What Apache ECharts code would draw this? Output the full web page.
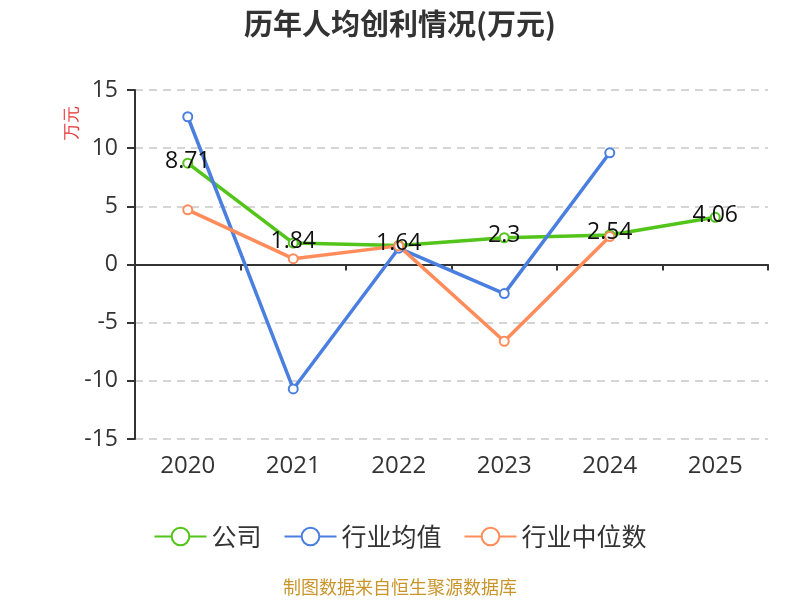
<!DOCTYPE html>
<html>
<head>
<meta charset="utf-8">
<script src="https://cdn.jsdelivr.net/npm/echarts@6/dist/echarts.min.js"></script>
<style>
  html, body { margin: 0; padding: 0; }
  #main { width: 800px; height: 600px; }
</style>
</head>
<body>
<div id="main"></div>
<script type="text/javascript">
    var years = ['2020', '2021', '2022', '2023', '2024', '2025'];
    var company = [8.71, 1.84, 1.64, 2.3, 2.54, 4.06];
    var industryAvg = [12.7, -10.7, 1.4, -2.5, 9.6, null];
    var industryMid = [4.7, 0.5, 1.6, -6.6, 2.4, null];
    var yTicks = { min: -15, max: 15, interval: 5 };

    var chart = echarts.init(document.getElementById('main'));

    function lineSeries(name, data, color, showLabel) {
        return {
            name: name,
            type: 'line',
            data: data,
            xAxisIndex: 0,
            symbol: 'emptyCircle',
            symbolSize: 9,
            lineStyle: { width: 3.5, color: color },
            itemStyle: { color: color, borderWidth: 1.5 },
            label: {
                show: showLabel,
                position: 'top',
                offset: [0, 20],
                color: '#111',
                fontSize: 23,
                fontFamily: 'Open Sans'
            }
        };
    }

    var option = {
        title: {
            text: '历年人均创利情况(万元)',
            left: 'center',
            top: 4,
            textStyle: { fontSize: 29, fontWeight: 'bold', color: '#333', fontFamily: 'Noto Sans CJK SC' }
        },
        color: ['#52c41a', '#4a7fe0', '#ff8c5a'],
        legend: {
            bottom: 46,
            left: 'center',
            itemWidth: 52,
            itemHeight: 22,
            itemGap: 22,
            textStyle: { fontSize: 25, color: '#333', fontFamily: 'Noto Sans CJK SC' },
            data: ['公司', '行业均值', '行业中位数']
        },
        grid: { left: 135, right: 32, top: 90, bottom: 161, outerBoundsMode: 'none', containLabel: false },
        xAxis: [{
            // year labels along the bottom of the grid
            type: 'category',
            data: years,
            position: 'bottom',
            axisLine: { show: false, onZero: false },
            axisTick: { show: false },
            axisLabel: { fontSize: 24, color: '#333', margin: 15, fontFamily: 'Open Sans' }
        }, {
            // zero line with ticks
            type: 'category',
            data: years,
            position: 'bottom',
            axisLine: { onZero: true, lineStyle: { color: '#333', width: 2 } },
            axisTick: { show: true, length: 6, lineStyle: { color: '#333', width: 2 } },
            axisLabel: { show: false }
        }],
        yAxis: {
            type: 'value',
            min: yTicks.min,
            max: yTicks.max,
            interval: yTicks.interval,
            name: '万元',
            nameLocation: 'end',
            nameRotate: 90,
            nameGap: 0,
            nameTextStyle: { color: '#e83030', fontSize: 17, align: 'right', verticalAlign: 'bottom', padding: [0, 16, 54, 0] },
            axisLine: { show: true, lineStyle: { color: '#333', width: 2 } },
            axisTick: { show: true, length: 8, lineStyle: { color: '#333', width: 2 } },
            axisLabel: { fontSize: 23, color: '#333', margin: 17, fontFamily: 'Open Sans' },
            splitLine: { lineStyle: { type: [8, 6], color: '#c8c8c8', width: 1.5 } }
        },
        series: [
            lineSeries('公司', company, '#52c41a', true),
            lineSeries('行业均值', industryAvg, '#4a7fe0', false),
            lineSeries('行业中位数', industryMid, '#ff8c5a', false)
        ],
        graphic: [{
            type: 'text',
            left: 'center',
            top: 578,
            style: { text: '制图数据来自恒生聚源数据库', fill: '#c9952b', fontSize: 18, fontFamily: 'Noto Sans CJK SC' }
        }]
    };

    chart.setOption(option);
</script>
</body>
</html>
